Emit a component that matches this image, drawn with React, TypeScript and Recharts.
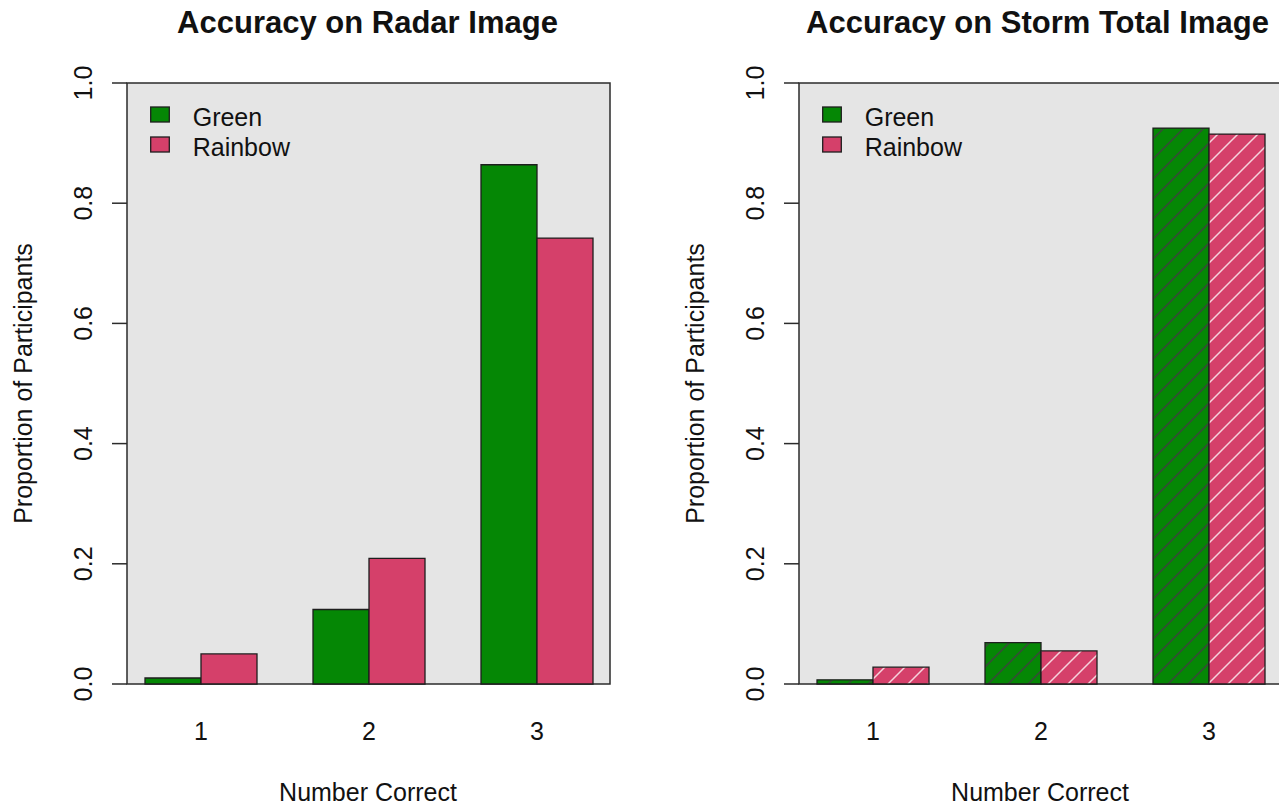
import { BarChart, Bar, XAxis, YAxis, Legend } from "recharts";

const categories = ["1", "2", "3"];
const radarGreen = [0.01, 0.124, 0.864];
const radarRainbow = [0.05, 0.209, 0.742];
const stormGreen = [0.007, 0.069, 0.925];
const stormRainbow = [0.028, 0.055, 0.915];
const yTicks = [0, 0.2, 0.4, 0.6, 0.8, 1.0];
const seriesNames = ["Green", "Rainbow"];

const GREEN = "#058705";
const PINK = "#d5406a";
const FONT = '"Liberation Sans", Arial, Helvetica, sans-serif';

// panel geometry (local coords)
const PANEL_W = 640;
const PANEL_H = 807;
const BOX = { left: 127, top: 83, right: 610, bottom: 684 };
const BAND_LEFT = 117;
const BAND_RIGHT = 621;
const Y_AXIS_W = 100;
const X_AXIS_H = 100;

function YTick(props: any) {
  const { y, payload } = props;
  return (
    <g>
      <line x1={BOX.left - 15} x2={BOX.left} y1={y} y2={y} stroke="#2b2b2b" strokeWidth={1.5} />
      <text
        transform={`translate(92, ${y}) rotate(-90)`}
        textAnchor="middle"
        fontSize={25}
        fontFamily={FONT}
        fill="#111"
      >
        {Number(payload.value).toFixed(1)}
      </text>
    </g>
  );
}

function XTick(props: any) {
  const { x, payload } = props;
  return (
    <text x={x} y={740} textAnchor="middle" fontSize={25} fontFamily={FONT} fill="#111">
      {payload.value}
    </text>
  );
}

function LegendBox() {
  const colors = [GREEN, PINK];
  return (
    <svg width={220} height={70} style={{ display: "block" }}>
      {seriesNames.map((name, i) => (
        <g key={name}>
          <rect
            x={10.7}
            y={12 + i * 30}
            width={18.6}
            height={15}
            fill={colors[i]}
            stroke="#1e1e1e"
            strokeWidth={1.3}
          />
          <text x={52.7} y={30.7 + i * 30} fontSize={25} fontFamily={FONT} fill="#111">
            {name}
          </text>
        </g>
      ))}
    </svg>
  );
}

function Panel({
  title,
  titleX,
  green,
  rainbow,
  hatched,
  left,
  id,
}: {
  title: string;
  titleX: number;
  green: number[];
  rainbow: number[];
  hatched: boolean;
  left: number;
  id: string;
}) {
  const data = categories.map((c, i) => ({ cat: c, green: green[i], rainbow: rainbow[i] }));
  const gFill = hatched ? `url(#${id}-g)` : GREEN;
  const rFill = hatched ? `url(#${id}-r)` : PINK;

  return (
    <div style={{ position: "absolute", left, top: 0, width: PANEL_W, height: PANEL_H }}>
      <svg
        style={{ position: "absolute", left: 0, top: 0 }}
        width={PANEL_W}
        height={PANEL_H}
      >
        <rect
          x={BOX.left}
          y={BOX.top}
          width={BOX.right - BOX.left}
          height={BOX.bottom - BOX.top}
          fill="#e5e5e5"
          stroke="#2b2b2b"
          strokeWidth={1.5}
        />
        <text x={titleX} y={33} textAnchor="middle" fontWeight="bold" fontSize={31} fontFamily={FONT} fill="#111">
          {title}
        </text>
        <text
          transform={`translate(32, ${(BOX.top + BOX.bottom) / 2}) rotate(-90)`}
          textAnchor="middle"
          fontSize={25}
          fontFamily={FONT}
          fill="#111"
        >
          Proportion of Participants
        </text>
        <text x={368} y={801} textAnchor="middle" fontSize={25} fontFamily={FONT} fill="#111">
          Number Correct
        </text>
      </svg>
      <div style={{ position: "absolute", left: 0, top: 0 }}>
        <BarChart
          width={PANEL_W}
          height={PANEL_H}
          data={data}
          margin={{
            top: BOX.top,
            bottom: PANEL_H - BOX.bottom - X_AXIS_H,
            left: BAND_LEFT - Y_AXIS_W,
            right: PANEL_W - BAND_RIGHT,
          }}
          barCategoryGap={28}
          barGap={0}
        >
          <defs>
            <pattern id={`${id}-g`} patternUnits="userSpaceOnUse" width={20} height={20}>
              <rect width={20} height={20} fill={GREEN} />
              <path d="M-5,5 L5,-5 M0,20 L20,0 M15,25 L25,15" stroke="#344e34" strokeWidth={1.6} />
            </pattern>
            <pattern id={`${id}-r`} patternUnits="userSpaceOnUse" width={20} height={20}>
              <rect width={20} height={20} fill={PINK} />
              <path d="M-5,5 L5,-5 M0,20 L20,0 M15,25 L25,15" stroke="#f6d3dc" strokeWidth={1.5} />
            </pattern>
          </defs>
          <XAxis dataKey="cat" height={X_AXIS_H} axisLine={false} tickLine={false} tick={XTick} />
          <YAxis
            type="number"
            domain={[0, 1]}
            ticks={yTicks}
            width={Y_AXIS_W}
            axisLine={false}
            tickLine={false}
            tick={YTick}
          />
          <Legend
            layout="horizontal"
            verticalAlign="middle"
            align="center"
            wrapperStyle={{ left: 140, top: 95, width: 220, height: 70 }}
            content={() => <LegendBox />}
          />
          <Bar dataKey="green" name="Green" fill={gFill} stroke="#1e1e1e" strokeWidth={1.3} isAnimationActive={false} />
          <Bar dataKey="rainbow" name="Rainbow" fill={rFill} stroke="#1e1e1e" strokeWidth={1.3} isAnimationActive={false} />
        </BarChart>
      </div>
    </div>
  );
}

export default function App() {
  return (
    <div
      style={{
        position: "relative",
        width: 1279,
        height: 807,
        overflow: "hidden",
        background: "#fff",
        fontFamily: FONT,
      }}
    >
      <style>{"body{margin:0}"}</style>
      <Panel title="Accuracy on Radar Image" titleX={367.5} green={radarGreen} rainbow={radarRainbow} hatched={false} left={0} id="radar" />
      <Panel title="Accuracy on Storm Total Image" titleX={365.5} green={stormGreen} rainbow={stormRainbow} hatched={true} left={672} id="storm" />
    </div>
  );
}
